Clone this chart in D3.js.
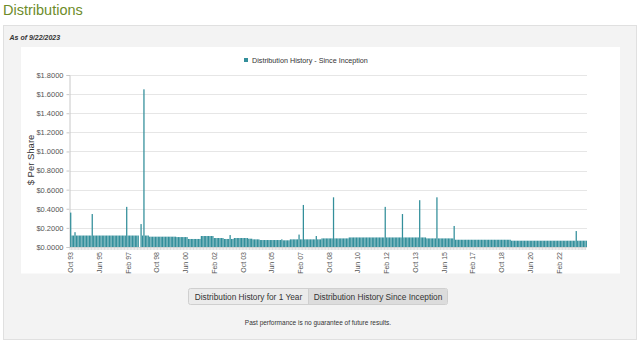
<!DOCTYPE html>
<html>
<head>
<meta charset="utf-8">
<script src="https://cdn.jsdelivr.net/npm/d3@7"></script>
<style>
  html, body { margin: 0; padding: 0; background: #ffffff; }
  svg { display: block; }
  text { font-family: "Liberation Sans", Arial, sans-serif; }
</style>
</head>
<body>
<svg id="chart" width="640" height="346"></svg>
<script>
// ---- Data ----
const startMonth = "1993-10"; // first category (Oct 93)
const seriesName = "Distribution History - Since Inception";
const distributions = [
  0.36,0.12,0.12,0.155,0.12,0.12,0.12,0.12,0.12,0.12,0.12,0.12,
  0.12,0.12,0.12,0.345,0.12,0.12,0.12,0.12,0.12,0.12,0.12,0.12,
  0.12,0.12,0.12,0.12,0.12,0.12,0.12,0.12,0.12,0.12,0.12,0.12,
  0.12,0.12,0.12,0.42,0.12,0.12,0.12,0.12,0.12,0.12,0.12,0.12,
  0,0.24,0.12,1.65,0.12,0.12,0.12,0.108,0.108,0.108,0.108,0.108,
  0.108,0.108,0.108,0.108,0.108,0.108,0.108,0.108,0.108,0.108,0.108,0.108,
  0.108,0.108,0.104,0.104,0.104,0.104,0.104,0.104,0.104,0.104,0.084,0.084,
  0.084,0.084,0.084,0.084,0.084,0.084,0.084,0.115,0.115,0.115,0.115,0.115,
  0.115,0.115,0.115,0.115,0.094,0.094,0.094,0.094,0.094,0.094,0.094,0.084,
  0.084,0.084,0.084,0.125,0.084,0.084,0.094,0.094,0.094,0.094,0.094,0.094,
  0.094,0.094,0.094,0.094,0.087,0.087,0.087,0.08,0.08,0.08,0.08,0.08,
  0.073,0.073,0.073,0.073,0.073,0.073,0.073,0.073,0.073,0.073,0.073,0.073,
  0.073,0.073,0.073,0.08,0.07,0.07,0.07,0.07,0.07,0.08,0.08,0.08,
  0.08,0.08,0.08,0.13,0.08,0.08,0.44,0.08,0.08,0.08,0.08,0.08,
  0.08,0.08,0.08,0.115,0.08,0.08,0.08,0.09,0.09,0.09,0.09,0.09,
  0.09,0.09,0.09,0.52,0.09,0.09,0.09,0.09,0.09,0.09,0.09,0.09,
  0.09,0.09,0.10,0.10,0.10,0.10,0.10,0.10,0.10,0.10,0.10,0.10,
  0.10,0.10,0.10,0.10,0.10,0.10,0.10,0.10,0.10,0.10,0.10,0.10,
  0.10,0.10,0.10,0.42,0.10,0.10,0.10,0.10,0.10,0.10,0.10,0.10,
  0.10,0.10,0.10,0.345,0.10,0.10,0.10,0.10,0.10,0.10,0.10,0.10,
  0.10,0.10,0.10,0.49,0.10,0.10,0.10,0.10,0.09,0.09,0.09,0.09,
  0.09,0.09,0.09,0.52,0.09,0.09,0.09,0.09,0.09,0.09,0.09,0.09,
  0.09,0.09,0.09,0.22,0.076,0.076,0.076,0.076,0.076,0.076,0.076,0.076,
  0.076,0.076,0.076,0.076,0.076,0.076,0.076,0.076,0.076,0.076,0.076,0.076,
  0.076,0.076,0.076,0.076,0.076,0.076,0.076,0.076,0.076,0.076,0.076,0.076,
  0.076,0.076,0.076,0.076,0.076,0.076,0.076,0.066,0.066,0.066,0.066,0.066,
  0.066,0.066,0.066,0.066,0.066,0.066,0.066,0.066,0.066,0.066,0.066,0.066,
  0.066,0.066,0.066,0.066,0.066,0.066,0.066,0.066,0.066,0.066,0.066,0.066,
  0.066,0.066,0.066,0.066,0.066,0.066,0.066,0.066,0.066,0.066,0.066,0.066,
  0.066,0.066,0.066,0.066,0.167,0.066,0.066,0.066,0.066,0.066,0.066,0.066
];
const yTicks = [0, 0.2, 0.4, 0.6, 0.8, 1.0, 1.2, 1.4, 1.6, 1.8];
const xTickLabels = ["Oct 93","Jun 95","Feb 97","Oct 98","Jun 00","Feb 02","Oct 03","Jun 05","Feb 07",
  "Oct 08","Jun 10","Feb 12","Oct 13","Jun 15","Feb 17","Oct 18","Jun 20","Feb 22"];
const xTickEvery = 20;

// categories: one per month
const start = d3.timeParse("%Y-%m")(startMonth);
const fmtCat = d3.timeFormat("%b %y");
const categories = distributions.map((_, i) => fmtCat(d3.timeMonth.offset(start, i)));

// ---- Layout ----
const svg = d3.select("#chart");
const plot = { left: 70, right: 587, top: 75, bottom: 247 };
const barColor = "#338f9b";

// title
svg.append("text").attr("x", 3).attr("y", 14.5)
  .attr("font-size", 14.5).attr("fill", "#6d8c2a").text("Distributions");

// grey panel
svg.append("rect").attr("x", 3.5).attr("y", 25.5).attr("width", 633).attr("height", 314)
  .attr("fill", "#f3f3f3").attr("stroke", "#e0e0e0");
svg.append("text").attr("x", 9.5).attr("y", 39.5)
  .attr("font-size", 7).attr("font-weight", "bold").attr("font-style", "italic")
  .attr("fill", "#333").text("As of 9/22/2023");

// white chart box
svg.append("rect").attr("x", 21).attr("y", 47).attr("width", 599).attr("height", 226.5)
  .attr("fill", "#ffffff");

// scales
const x = d3.scaleBand().domain(categories).range([plot.left, plot.right]).paddingInner(0.12).paddingOuter(0.05);
const y = d3.scaleLinear().domain([0, 1.8]).range([plot.bottom, plot.top]);

// gridlines
svg.append("g").selectAll("line").data(yTicks).join("line")
  .attr("x1", plot.left).attr("x2", plot.right)
  .attr("y1", d => Math.round(y(d)) + 0.5).attr("y2", d => Math.round(y(d)) + 0.5)
  .attr("stroke", "#e6e6e6").attr("stroke-width", 1);

// y axis
const yAxis = d3.axisLeft(y).tickValues(yTicks).tickFormat(d3.format("$.4f")).tickSize(3).tickPadding(3);
const gy = svg.append("g").attr("transform", `translate(${plot.left - 0.5},0)`).call(yAxis);
gy.select(".domain").attr("stroke", "#c8c8c8");
gy.selectAll(".tick line").attr("stroke", "#c8c8c8");
gy.selectAll(".tick text").attr("font-size", 7.5).attr("fill", "#555")
  .attr("font-family", "Liberation Sans, Arial, sans-serif");

// y title
svg.append("text").attr("transform", "translate(34,160) rotate(-90)")
  .attr("text-anchor", "middle").attr("font-size", 9.5).attr("fill", "#333").text("$ Per Share");

// bars
svg.append("g").selectAll("rect").data(distributions).join("rect")
  .attr("x", (d, i) => x(categories[i]))
  .attr("width", x.bandwidth())
  .attr("y", d => y(d))
  .attr("height", d => y(0) - y(d))
  .attr("fill", barColor);

// x axis: ticks per category + labels every 20
const gx = svg.append("g");
gx.selectAll("line").data(categories).join("line")
  .attr("x1", d => x(d) - x.step() * x.paddingInner() / 2).attr("x2", d => x(d) - x.step() * x.paddingInner() / 2)
  .attr("y1", plot.bottom).attr("y2", plot.bottom + 3)
  .attr("stroke", "#c8c8c8").attr("stroke-width", 0.6);
gx.append("line").attr("x1", plot.left).attr("x2", plot.right)
  .attr("y1", plot.bottom + 0.5).attr("y2", plot.bottom + 0.5).attr("stroke", "#d0d0d0").attr("stroke-width", 0.5);
gx.selectAll("text").data(xTickLabels).join("text")
  .attr("transform", (d, k) => {
    const c = categories[k * xTickEvery];
    const cx = x(c) + x.bandwidth() / 2 + 2.5;
    return `translate(${cx},${plot.bottom + 5}) rotate(-90)`;
  })
  .attr("text-anchor", "end").attr("font-size", 7).attr("fill", "#555").text(d => d);

// legend
const lg = svg.append("g");
lg.append("rect").attr("x", 244).attr("y", 58).attr("width", 4).attr("height", 4).attr("fill", barColor);
lg.append("text").attr("x", 252).attr("y", 62.5).attr("font-size", 7.2).attr("fill", "#333").text(seriesName);

// buttons
const btn = svg.append("g");
btn.append("rect").attr("x", 188.5).attr("y", 288.5).attr("width", 259).attr("height", 16).attr("rx", 2)
  .attr("fill", "#ebebeb").attr("stroke", "#cfcfcf");
btn.append("rect").attr("x", 308.5).attr("y", 289).attr("width", 138.5).attr("height", 15)
  .attr("fill", "#dcdcdc");
btn.append("line").attr("x1", 308.5).attr("x2", 308.5).attr("y1", 288.5).attr("y2", 304.5).attr("stroke", "#cfcfcf");
btn.append("text").attr("x", 248.5).attr("y", 299.5).attr("text-anchor", "middle")
  .attr("font-size", 8.3).attr("fill", "#333").text("Distribution History for 1 Year");
btn.append("text").attr("x", 378).attr("y", 299.5).attr("text-anchor", "middle")
  .attr("font-size", 8.3).attr("fill", "#333").text("Distribution History Since Inception");

svg.append("text").attr("x", 318).attr("y", 325).attr("text-anchor", "middle")
  .attr("font-size", 6.5).attr("fill", "#333").text("Past performance is no guarantee of future results.");
</script>
</body>
</html>
